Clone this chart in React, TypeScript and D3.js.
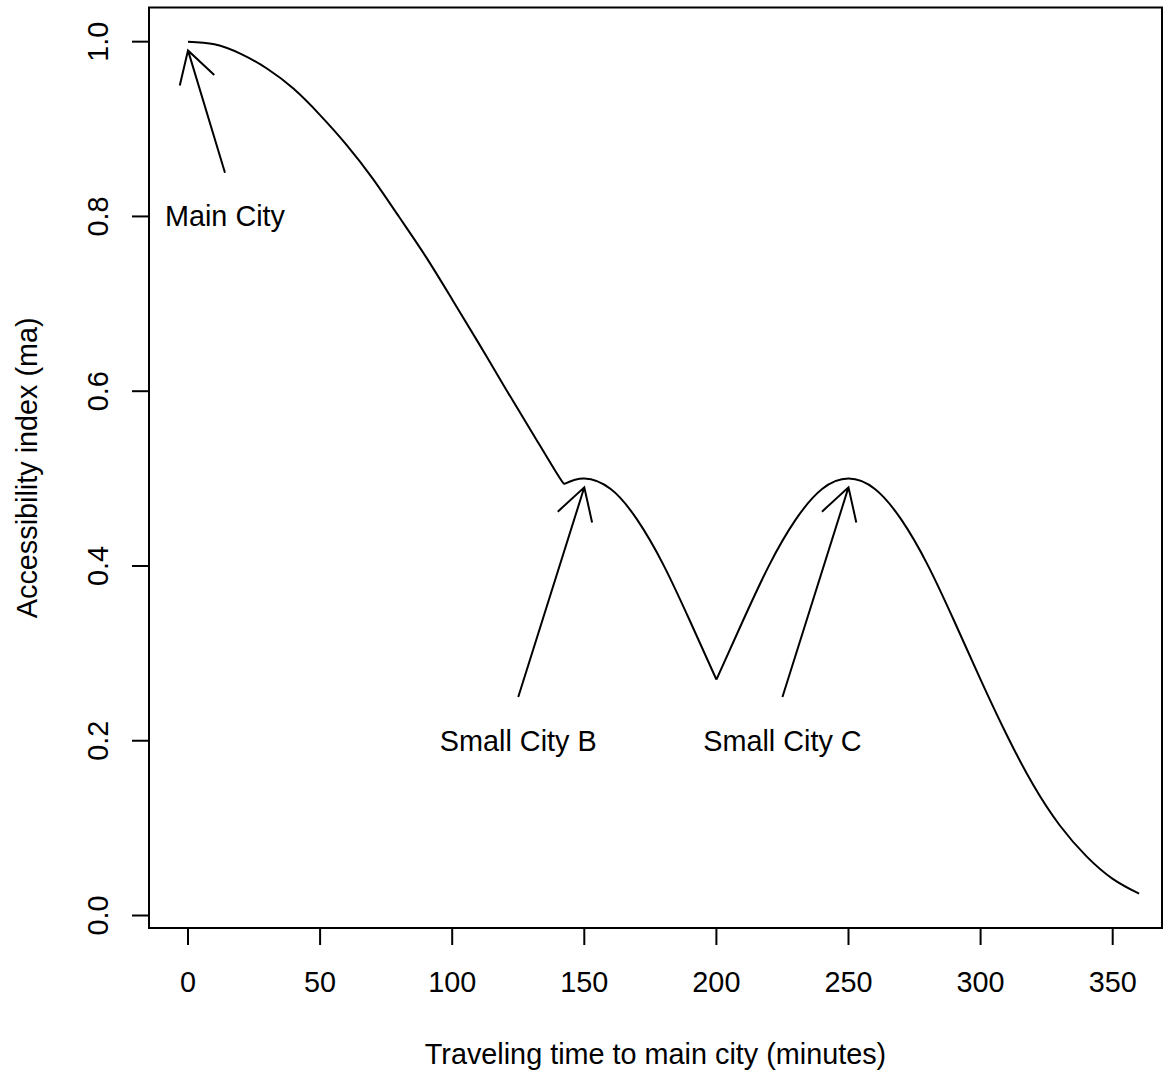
import React from "react";
import * as d3 from "d3";

// accessibility index, split where the curve has kinks
const mainCityTimes = [0, 10, 20, 30, 40, 50, 60, 70, 80, 90, 100, 110, 120, 130, 140, 142.5];
const mainCityMa = [1.0, 0.997, 0.986, 0.969, 0.946, 0.916, 0.882, 0.843, 0.799, 0.754, 0.705, 0.655, 0.604, 0.554, 0.504, 0.494];

const cityBTimes = [142.5, 150, 160, 170, 180, 190, 200];
const cityBMa = [0.494, 0.5, 0.488, 0.453, 0.401, 0.337, 0.27];

const cityCTimes = [200, 210, 220, 230, 240, 250, 260, 270, 280, 290, 300, 310, 320, 330, 340, 350, 360];
const cityCMa = [0.27, 0.337, 0.401, 0.453, 0.488, 0.5, 0.488, 0.453, 0.401, 0.337, 0.27, 0.206, 0.149, 0.103, 0.068, 0.042, 0.025];

const xTicks = [0, 50, 100, 150, 200, 250, 300, 350];
const yTicks = [0, 0.2, 0.4, 0.6, 0.8, 1.0];

// annotations
const labelTexts = ["Main City", "Small City B", "Small City C"];
const labelX = [14, 125, 225];
const labelY = [0.8, 0.2, 0.2];
const arrowFromX = [14, 125, 225];
const arrowFromY = [0.85, 0.25, 0.25];
const arrowToX = [0, 150, 250];
const arrowToY = [0.99, 0.49, 0.49];

const W = 1170;
const H = 1074;
const left = 149, right = 1162, top = 7.5, bottom = 928;
const font = "'Liberation Sans', Arial, Helvetica, sans-serif";
const fs = 28.8;

export default function App() {
  const x = d3.scaleLinear().domain([-14.76, 368.66]).range([left, right]);
  const y = d3.scaleLinear().domain([-0.0143, 1.0391]).range([bottom, top]);

  const line = d3
    .line<[number, number]>()
    .x((d) => x(d[0]))
    .y((d) => y(d[1]))
    .curve(d3.curveNatural);

  const segs = [
    [mainCityTimes, mainCityMa],
    [cityBTimes, cityBMa],
    [cityCTimes, cityCMa],
  ];
  const pathD = segs
    .map(([ts, vs]) => line(ts.map((t, i) => [t, vs[i]] as [number, number])))
    .join("");

  const headLen = 36;
  const headAng = Math.PI / 6;

  const arrows = labelTexts.map((_, i) => {
    const x0 = x(arrowFromX[i]), y0 = y(arrowFromY[i]);
    const x1 = x(arrowToX[i]), y1 = y(arrowToY[i]);
    const a = Math.atan2(y0 - y1, x0 - x1);
    const h1x = x1 + headLen * Math.cos(a + headAng);
    const h1y = y1 + headLen * Math.sin(a + headAng);
    const h2x = x1 + headLen * Math.cos(a - headAng);
    const h2y = y1 + headLen * Math.sin(a - headAng);
    return `M${x0},${y0}L${x1},${y1}M${h1x},${h1y}L${x1},${y1}L${h2x},${h2y}`;
  });

  return (
    <svg
      width={W}
      height={H}
      style={{ position: "absolute", left: 0, top: 0, background: "#fff" }}
      fontFamily={font}
    >
      <rect x={0} y={0} width={W} height={H} fill="#fff" />
      <path d={pathD} fill="none" stroke="#000" strokeWidth={2} />
      {arrows.map((d, i) => (
        <path key={i} d={d} fill="none" stroke="#000" strokeWidth={2} />
      ))}
      {labelTexts.map((t, i) => (
        <text
          key={t}
          x={x(labelX[i])}
          y={y(labelY[i]) + 10}
          textAnchor="middle"
          fontSize={fs}
          fill="#000"
        >
          {t}
        </text>
      ))}
      <rect
        x={left}
        y={top}
        width={right - left}
        height={bottom - top}
        fill="none"
        stroke="#000"
        strokeWidth={2}
      />
      {/* x axis */}
      <line x1={x(xTicks[0])} x2={x(xTicks[xTicks.length - 1])} y1={bottom} y2={bottom} stroke="#000" strokeWidth={2} />
      {xTicks.map((t) => (
        <g key={t}>
          <line x1={x(t)} x2={x(t)} y1={bottom} y2={bottom + 17} stroke="#000" strokeWidth={2} />
          <text x={x(t)} y={992} textAnchor="middle" fontSize={fs} fill="#000">
            {t}
          </text>
        </g>
      ))}
      {/* y axis */}
      <line x1={left} x2={left} y1={y(yTicks[0])} y2={y(yTicks[yTicks.length - 1])} stroke="#000" strokeWidth={2} />
      {yTicks.map((t) => (
        <g key={t}>
          <line x1={left - 17} x2={left} y1={y(t)} y2={y(t)} stroke="#000" strokeWidth={2} />
          <text
            transform={`translate(108,${y(t)}) rotate(-90)`}
            textAnchor="middle"
            fontSize={fs}
            fill="#000"
          >
            {t.toFixed(1)}
          </text>
        </g>
      ))}
      <text x={(left + right) / 2} y={1063.5} textAnchor="middle" fontSize={fs} fill="#000">
        Traveling time to main city (minutes)
      </text>
      <text
        transform={`translate(36.5,${(top + bottom) / 2}) rotate(-90)`}
        textAnchor="middle"
        fontSize={fs}
        fill="#000"
      >
        Accessibility index (ma)
      </text>
    </svg>
  );
}
